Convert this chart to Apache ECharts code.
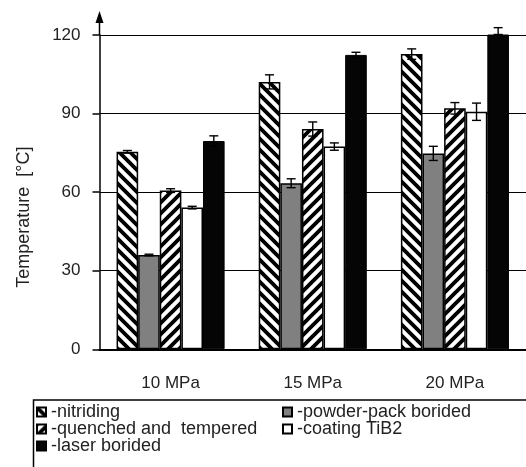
<!DOCTYPE html>
<html>
<head>
<meta charset="utf-8">
<script src="https://cdn.jsdelivr.net/npm/echarts@6/dist/echarts.min.js"></script>
<style>
html,body{margin:0;padding:0;background:#fff;}
#chart{width:526px;height:467px;}
</style>
</head>
<body>
<div id="chart"></div>
<script>
// ---- data ----
var categories = ['10 MPa', '15 MPa', '20 MPa'];
var seriesNames = ['nitriding', 'powder-pack borided', 'quenched and  tempered', 'coating TiB2', 'laser borided'];
var nitriding = [75.4, 102.1, 112.7];
var nitridingErr = [0.5, 2.7, 2.0];
var powderPack = [36.0, 63.4, 74.8];
var powderPackErr = [0.3, 1.7, 2.7];
var quenched = [60.6, 84.1, 92.0];
var quenchedErr = [0.7, 2.7, 2.2];
var coatingTiB2 = [54.1, 77.4, 90.7];
var coatingTiB2Err = [0.5, 1.4, 3.3];
var laser = [79.5, 112.4, 121.5];
var laserErr = [2.0, 1.0, 1.3];
var yTicks = [0, 30, 60, 90, 120];

var values = [nitriding, powderPack, quenched, coatingTiB2, laser];
var errors = [nitridingErr, powderPackErr, quenchedErr, coatingTiB2Err, laserErr];

// ---- patterns ----
function stripes(dir) {
  var s = 11;
  var c = document.createElement('canvas');
  c.width = s; c.height = s;
  var g = c.getContext('2d');
  g.fillStyle = '#fff';
  g.fillRect(0, 0, s, s);
  g.strokeStyle = '#000';
  g.lineWidth = 3.8;
  g.lineCap = 'square';
  for (var k = -1; k <= 1; k++) {
    g.beginPath();
    if (dir === 'back') {
      g.moveTo(-2, -2 + k * s); g.lineTo(s + 2, s + 2 + k * s);
    } else {
      g.moveTo(-2, s + 2 + k * s); g.lineTo(s + 2, -2 + k * s);
    }
    g.stroke();
  }
  return c;
}

var styles = [
  {color: {image: stripes('back'), repeat: 'repeat'}, borderColor: '#000', borderWidth: 1.5},
  {color: '#808080', borderColor: '#000', borderWidth: 1.5},
  {color: {image: stripes('fwd'), repeat: 'repeat'}, borderColor: '#000', borderWidth: 1.5},
  {color: '#ffffff', borderColor: '#000', borderWidth: 1.5},
  {color: '#050505', borderColor: '#000', borderWidth: 1}
];

var CAT_GAP = 0.24;
var series = [];
for (var i = 0; i < 5; i++) {
  series.push({
    name: seriesNames[i],
    type: 'bar',
    data: values[i],
    barGap: '0%',
    barCategoryGap: (CAT_GAP * 100) + '%',
    itemStyle: styles[i],
    emphasis: {disabled: true},
    z: 2
  });
}
var errData = [];
for (var s = 0; s < 5; s++) {
  for (var c = 0; c < categories.length; c++) {
    errData.push([c, values[s][c], errors[s][c], s]);
  }
}
series.push({
  name: 'err',
  type: 'custom',
  data: errData,
  z: 5,
  renderItem: function (params, api) {
    var ci = api.value(0), v = api.value(1), e = api.value(2), si = api.value(3);
    var center = api.coord([ci, v]);
    var band = api.size([1, 0])[0];
    var bw = band * (1 - CAT_GAP) / 5;
    var x = center[0] + (si - 2) * bw;
    var yt = api.coord([ci, v + e])[1];
    var yb = api.coord([ci, v - e])[1];
    var hw = 4.5;
    var st = {stroke: '#000', lineWidth: 1.4};
    return {type: 'group', children: [
      {type: 'line', shape: {x1: x, y1: yt, x2: x, y2: yb}, style: st},
      {type: 'line', shape: {x1: x - hw, y1: yt, x2: x + hw, y2: yt}, style: st},
      {type: 'line', shape: {x1: x - hw, y1: yb, x2: x + hw, y2: yb}, style: st}
    ]};
  }
});

var chart = echarts.init(document.getElementById('chart'), null, {renderer: 'canvas'});
var FONT = '"Liberation Sans", Arial, sans-serif';
var legendText = {fontFamily: FONT, fontSize: 18, color: '#222'};
function mkLegend(names, left, topPos) {
  return {
    data: names, orient: 'vertical', left: left, top: topPos,
    itemWidth: 9, itemHeight: 9, itemGap: -1, icon: 'rect',
    textStyle: legendText, formatter: '-{name}', selectedMode: false, padding: 0
  };
}
var option = {
  animation: false,
  backgroundColor: '#fff',
  grid: {left: 99.5, right: -8.5, top: 35, bottom: 117.7, containLabel: false},
  legend: [
    mkLegend([seriesNames[0], seriesNames[2], seriesNames[4]], 36, 403),
    mkLegend([seriesNames[1], seriesNames[3]], 282, 403)
  ],
  xAxis: {
    type: 'category', data: categories,
    axisLine: {lineStyle: {color: '#000', width: 2}},
    axisTick: {show: false},
    axisLabel: {fontFamily: FONT, fontSize: 17, color: '#222', margin: 26}
  },
  yAxis: {
    type: 'value', min: 0, max: 120, interval: 30,
    name: 'Temperature  [°C]', nameLocation: 'middle', nameGap: 66,
    nameTextStyle: {fontFamily: FONT, fontSize: 18, color: '#222', padding: [0, 50, 0, 0]},
    axisLine: {show: true, lineStyle: {color: '#000', width: 1.5}},
    axisTick: {show: true, inside: false, length: 7, lineStyle: {color: '#000', width: 1.5}},
    axisLabel: {fontFamily: FONT, fontSize: 17, color: '#222', margin: 19},
    splitLine: {show: true, lineStyle: {color: '#000', width: 1.2}}
  },
  series: series
};
chart.setOption(option);

// axis arrow extension and legend frame
var yTopPx = chart.convertToPixel({yAxisIndex: 0}, yTicks[yTicks.length - 1]);
var c0 = chart.convertToPixel({xAxisIndex: 0}, 0);
var c1 = chart.convertToPixel({xAxisIndex: 0}, 1);
var axisX = c0 - (c1 - c0) / 2;
chart.setOption({
  graphic: [
    {type: 'line', shape: {x1: axisX, y1: yTopPx, x2: axisX, y2: yTopPx - 14}, style: {stroke: '#000', lineWidth: 1.5}, z: 10},
    {type: 'polygon', shape: {points: [[axisX, yTopPx - 24], [axisX - 4, yTopPx - 12], [axisX + 4, yTopPx - 12]]}, style: {fill: '#000'}, z: 10},
    {type: 'rect', shape: {x: 33.5, y: 400, width: 520, height: 100}, style: {fill: null, stroke: '#000', lineWidth: 1.5}, z: 0}
  ]
});
</script>
</body>
</html>
